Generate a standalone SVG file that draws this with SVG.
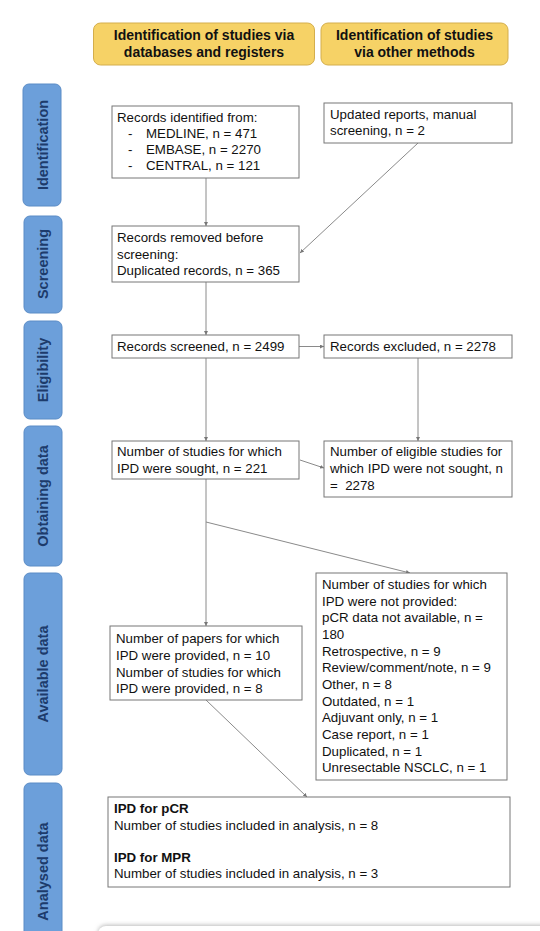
<svg xmlns="http://www.w3.org/2000/svg" width="540" height="931" viewBox="0 0 540 931">
<style>
text{font-family:"Liberation Sans",Arial,sans-serif;fill:#111}
.hdr rect{fill:#F6D266;stroke:#D4AE4C;stroke-width:1}
.hdr text{font-size:14px;font-weight:bold;text-anchor:middle}
.side rect{fill:#6C9FDA;stroke:#5B8CC6;stroke-width:1}
.side text{font-size:14.5px;font-weight:bold;fill:#1D3B6B;text-anchor:middle}
.box rect{fill:#fff;stroke:#777;stroke-width:1}
.box text{font-size:13.3px}
.b{font-weight:bold}
#connectors line{stroke:#8a8a8a;stroke-width:1;fill:none}
</style>
<defs>
<marker id="ah" viewBox="0 0 6 6" refX="6" refY="3" markerWidth="4" markerHeight="4" orient="auto" markerUnits="userSpaceOnUse">
<path d="M0,0 L6,3 L0,6 z" fill="#777"/>
</marker>
<filter id="sh" x="-5%" y="-50%" width="110%" height="200%">
<feGaussianBlur stdDeviation="2"/>
</filter>
</defs>
<rect width="540" height="931" fill="#fff"/>

<g id="hdr-left" class="hdr"><rect x="93.5" y="23" width="221" height="42" rx="7"/><text x="204" y="40">Identification of studies via</text><text x="204" y="57">databases and registers</text></g>
<g id="hdr-right" class="hdr"><rect x="321" y="23" width="187" height="42" rx="7"/><text x="414.5" y="40">Identification of studies</text><text x="414.5" y="57">via other methods</text></g>

<g id="side-identification" class="side"><rect x="23" y="84" width="38" height="122" rx="6"/><text transform="translate(47.5,145) rotate(-90)">Identification</text></g>
<g id="side-screening" class="side"><rect x="24" y="216" width="38" height="97" rx="6"/><text transform="translate(48,264) rotate(-90)">Screening</text></g>
<g id="side-eligibility" class="side"><rect x="24" y="321" width="38" height="98" rx="6"/><text transform="translate(48,370) rotate(-90)">Eligibility</text></g>
<g id="side-obtaining" class="side"><rect x="24" y="426" width="38" height="140" rx="6"/><text transform="translate(48,496) rotate(-90)">Obtaining data</text></g>
<g id="side-available" class="side"><rect x="24" y="573" width="38" height="202" rx="6"/><text transform="translate(48,674) rotate(-90)">Available data</text></g>
<g id="side-analysed" class="side"><rect x="24" y="783" width="38" height="177" rx="6"/><text transform="translate(48,871.5) rotate(-90)">Analysed data</text></g>

<g id="connectors">
<line x1="206" y1="178" x2="206" y2="226" marker-end="url(#ah)"/>
<line x1="418" y1="143" x2="300" y2="253" marker-end="url(#ah)"/>
<line x1="206" y1="282" x2="206" y2="335" marker-end="url(#ah)"/>
<line x1="299" y1="346.5" x2="324" y2="346.5" marker-end="url(#ah)"/>
<line x1="206" y1="358" x2="206" y2="441" marker-end="url(#ah)"/>
<line x1="418" y1="358" x2="418" y2="441" marker-end="url(#ah)"/>
<line x1="300" y1="460" x2="324" y2="468" marker-end="url(#ah)"/>
<line x1="206" y1="479" x2="206" y2="626" marker-end="url(#ah)"/>
<line x1="206" y1="522" x2="410" y2="573" marker-end="url(#ah)"/>
<line x1="206" y1="700" x2="307" y2="797" marker-end="url(#ah)"/>
</g>

<g id="records-identified" class="box"><rect x="112" y="106" width="187" height="72"/>
<text x="117" y="122">Records identified from:</text>
<text x="128" y="138">-</text><text x="146" y="138">MEDLINE, n = 471</text>
<text x="128" y="154">-</text><text x="146" y="154">EMBASE, n = 2270</text>
<text x="128" y="170">-</text><text x="146" y="170">CENTRAL, n = 121</text></g>

<g id="updated-reports" class="box"><rect x="324" y="103" width="188" height="40"/>
<text x="330" y="119">Updated reports, manual</text>
<text x="330" y="135">screening, n = 2</text></g>

<g id="records-removed" class="box"><rect x="112" y="226" width="187" height="56"/>
<text x="117" y="242">Records removed before</text>
<text x="117" y="258.5">screening:</text>
<text x="117" y="275">Duplicated records, n = 365</text></g>

<g id="records-screened" class="box"><rect x="112" y="335" width="187" height="23"/>
<text x="117" y="351">Records screened, n = 2499</text></g>

<g id="records-excluded" class="box"><rect x="324" y="335" width="188" height="23"/>
<text x="330" y="351">Records excluded, n = 2278</text></g>

<g id="ipd-sought" class="box"><rect x="112" y="441" width="187" height="38"/>
<text x="117" y="456">Number of studies for which</text>
<text x="117" y="473">IPD were sought, n = 221</text></g>

<g id="ipd-not-sought" class="box"><rect x="324" y="441" width="188" height="56"/>
<text x="330" y="456">Number of eligible studies for</text>
<text x="330" y="473">which IPD were not sought, n</text>
<text x="330" y="490" xml:space="preserve">=  2278</text></g>

<g id="ipd-provided" class="box"><rect x="110" y="626" width="192" height="74"/>
<text x="116" y="643">Number of papers for which</text>
<text x="116" y="660">IPD were provided, n = 10</text>
<text x="116" y="677">Number of studies for which</text>
<text x="116" y="693">IPD were provided, n = 8</text></g>

<g id="ipd-not-provided" class="box"><rect x="316" y="573" width="191" height="207"/>
<text x="322" y="589">Number of studies for which</text>
<text x="322" y="605.7">IPD were not provided:</text>
<text x="322" y="622.3">pCR data not available, n =</text>
<text x="322" y="639">180</text>
<text x="322" y="655.7">Retrospective, n = 9</text>
<text x="322" y="672.3">Review/comment/note, n = 9</text>
<text x="322" y="689">Other, n = 8</text>
<text x="322" y="705.7">Outdated, n = 1</text>
<text x="322" y="722.3">Adjuvant only, n = 1</text>
<text x="322" y="739">Case report, n = 1</text>
<text x="322" y="755.7">Duplicated, n = 1</text>
<text x="322" y="772.3">Unresectable NSCLC, n = 1</text></g>

<g id="analysed" class="box"><rect x="108" y="797" width="402" height="90"/>
<text x="114" y="813" class="b">IPD for pCR</text>
<text x="114" y="830">Number of studies included in analysis, n = 8</text>
<text x="114" y="862" class="b">IPD for MPR</text>
<text x="114" y="878">Number of studies included in analysis, n = 3</text></g>

<g id="bottom-panel">
<rect x="98" y="925" width="460" height="30" rx="8" fill="#bbb" filter="url(#sh)"/>
<rect x="98" y="926" width="460" height="30" rx="8" fill="#fff"/>
</g>
</svg>
